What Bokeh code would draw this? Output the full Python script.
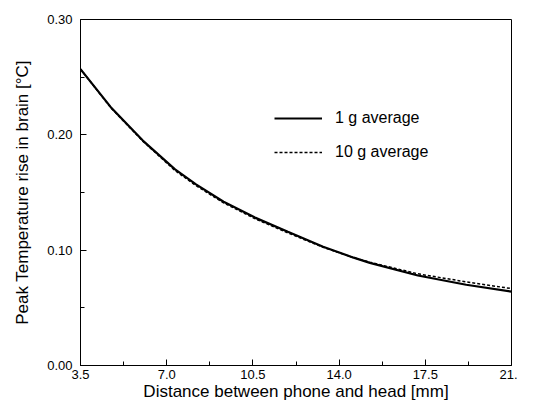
from bokeh.plotting import figure
from bokeh.models import FixedTicker, Legend, LegendItem, Range1d
from bokeh.embed import file_html
from bokeh.resources import INLINE

# Data
distance = [3.5, 4.73, 6.03, 7.34, 8.19, 9.31, 10.61, 11.92, 13.35, 14.59, 15.25, 17.2, 19.16, 21.0]
avg_1g = [0.257, 0.224, 0.195, 0.170, 0.157, 0.142, 0.128, 0.116, 0.103, 0.0935, 0.089, 0.078, 0.070, 0.064]
avg_10g = [0.257, 0.2235, 0.1945, 0.169, 0.156, 0.141, 0.127, 0.115, 0.1025, 0.0935, 0.0895, 0.0795, 0.0725, 0.0667]

x_ticks = [3.5, 7.0, 10.5, 14.0, 17.5, 21.0]
x_tick_labels = ["3.5", "7.0", "10.5", "14.0", "17.5", "21."]
x_minor = [5.25, 8.75, 12.25, 15.75, 19.25]
y_ticks = [0.0, 0.1, 0.2, 0.3]
y_tick_labels = ["0.00", "0.10", "0.20", "0.30"]
y_minor = [0.05, 0.15, 0.25]

FONT = "Liberation Sans"

p = figure(width=517, height=403, output_backend="svg", toolbar_location=None,
           x_range=Range1d(3.5, 21.0), y_range=Range1d(0.0, 0.30),
           min_border_left=80, min_border_right=6, min_border_top=19, min_border_bottom=36)
p.background_fill_color = "white"
p.border_fill_color = "white"
p.outline_line_color = "black"
p.outline_line_width = 1
p.grid.visible = False

r1 = p.line(distance, avg_1g, line_color="black", line_width=2.2)
r2 = p.line(distance, avg_10g, line_color="black", line_width=1.5, line_dash="3 2")

p.xaxis.ticker = FixedTicker(ticks=x_ticks, minor_ticks=x_minor)
p.yaxis.ticker = FixedTicker(ticks=y_ticks, minor_ticks=y_minor)
p.xaxis.major_label_overrides = {t: l for t, l in zip(x_ticks, x_tick_labels)}
p.yaxis.major_label_overrides = {t: l for t, l in zip(y_ticks, y_tick_labels)}

for ax in (p.xaxis[0], p.yaxis[0]):
    ax.axis_line_color = "black"
    ax.major_tick_in = 6
    ax.major_tick_out = 0
    ax.minor_tick_in = 4
    ax.minor_tick_out = 0
    ax.major_tick_line_color = "black"
    ax.minor_tick_line_color = "black"
    ax.major_label_text_font = FONT
    ax.major_label_text_font_size = "13px"
    ax.major_label_text_color = "black"
    ax.axis_label_text_font = FONT
    ax.axis_label_text_font_size = "17px"
    ax.axis_label_text_font_style = "normal"
    ax.axis_label_text_color = "black"

p.xaxis.axis_label = "Distance between phone and head [mm]"
p.xaxis.major_label_standoff = 4
p.xaxis.axis_label_standoff = 0
p.yaxis.axis_label = "Peak Temperature rise in brain [°C]"
p.yaxis.major_label_standoff = 8
p.yaxis.axis_label_standoff = 12

legend = Legend(items=[LegendItem(label="1 g average", renderers=[r1]),
                       LegendItem(label="10 g average", renderers=[r2])],
                location=(194, 203), padding=0, margin=0, spacing=14,
                glyph_width=48, glyph_height=20, label_height=20,
                label_standoff=13, border_line_color=None,
                background_fill_alpha=0,
                label_text_font=FONT, label_text_font_size="16px",
                label_text_color="black")
p.add_layout(legend, "center")

open("out.html", "w").write(file_html(p, INLINE))
